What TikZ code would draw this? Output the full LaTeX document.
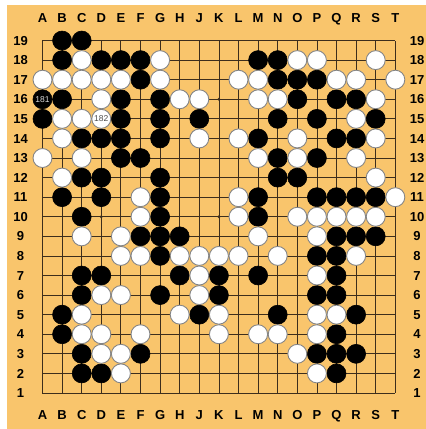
\documentclass[tikz,border=0pt]{standalone}
\usepackage{fontspec}
\setmainfont{Liberation Sans}
\usepackage{tikz}
\usepackage{xcolor}
\definecolor{boardorange}{HTML}{F9C56C}
\definecolor{gridbrown}{HTML}{3D2E1C}
\definecolor{stonegray}{HTML}{858585}
\tikzstyle{blackstone} = [
    circle, minimum size=19pt, inner sep=0pt,
    fill=black, draw=black, line width=0.6pt
]
\tikzstyle{whitestone} = [
    circle, minimum size=19pt, inner sep=0pt,
    fill=white, draw=stonegray, line width=0.9pt
]
\tikzstyle{coordlabel} = [
    inner sep=0pt, text height=9.3pt, text depth=0pt,
    font=\fontsize{13}{13}\selectfont\bfseries, text=black
]
\tikzstyle{movenum} = [font=\fontsize{8.5}{8.5}\selectfont]
\tikzstyle{gridline} = [draw=gridbrown, line width=0.8pt]
\tikzstyle{starpoint} = [circle, fill=gridbrown, inner sep=0pt, minimum size=3.2pt]

\begin{document}
\begin{tikzpicture}[x=19.6pt, y=19.58pt]
    \useasboundingbox (-1.168,-0.839) rectangle (20.566,21.07);
    % Board
    \fill[white] (-1.168,-0.839) rectangle (20.566,21.07);
    \fill[boardorange] (-0.811,-0.839) rectangle (20.566,20.816);
    \foreach \i in {1,...,19} {
        \draw[gridline] (\i,1) -- (\i,19);
        \draw[gridline] (1,\i) -- (19,\i);
    }
    \foreach \c/\r in {4/4,10/4,16/4,4/10,10/10,16/10,4/16,10/16,16/16}
        \node[starpoint] (star\c-\r) at (\c,\r) {};
    % Coordinates
    \foreach \l [count=\i] in {A,B,C,D,E,F,G,H,J,K,L,M,N,O,P,Q,R,S,T} {
        \node[coordlabel] (top\l) at (\i,20.15) {\l};
        \node[coordlabel] (bot\l) at (\i,-0.11) {\l};
    }
    \foreach \r in {1,...,19} {
        \node[coordlabel] (left\r) at (-0.12,\r) {\r};
        \node[coordlabel] (right\r) at (20.11,\r) {\r};
    }
    % Black stones
    \foreach \c/\r in {2/19,3/19,
        2/18,4/18,5/18,6/18,12/18,13/18,
        6/17,13/17,14/17,15/17,
        2/16,5/16,7/16,14/16,16/16,17/16,
        1/15,5/15,7/15,9/15,13/15,15/15,18/15,
        3/14,4/14,5/14,7/14,12/14,16/14,17/14,
        5/13,6/13,13/13,15/13,
        3/12,4/12,7/12,13/12,14/12,
        2/11,4/11,7/11,12/11,15/11,16/11,17/11,18/11,
        3/10,7/10,12/10,
        6/9,7/9,8/9,16/9,17/9,18/9,
        7/8,15/8,16/8,
        3/7,4/7,8/7,10/7,12/7,16/7,
        3/6,7/6,10/6,15/6,16/6,
        2/5,9/5,13/5,17/5,
        2/4,16/4,
        3/3,6/3,15/3,16/3,17/3,
        3/2,4/2,16/2}
        \node[blackstone] (b\c-\r) at (\c,\r) {};
    % White stones
    \foreach \c/\r in {3/18,7/18,14/18,15/18,18/18,
        1/17,2/17,3/17,4/17,5/17,7/17,11/17,12/17,16/17,17/17,19/17,
        4/16,8/16,9/16,12/16,13/16,18/16,
        2/15,3/15,17/15,
        2/14,9/14,11/14,14/14,18/14,
        1/13,3/13,12/13,14/13,17/13,
        2/12,18/12,
        6/11,11/11,19/11,
        6/10,11/10,14/10,15/10,16/10,17/10,18/10,
        3/9,5/9,12/9,15/9,
        5/8,6/8,8/8,9/8,10/8,11/8,13/8,17/8,
        9/7,15/7,
        4/6,5/6,9/6,
        3/5,8/5,10/5,15/5,16/5,
        3/4,4/4,6/4,10/4,12/4,13/4,15/4,
        4/3,5/3,14/3,
        5/2,15/2}
        \node[whitestone] (w\c-\r) at (\c,\r) {};
    % Numbered moves
    \node[blackstone, movenum, text=white!85!black] (m181) at (1,16) {181};
    \node[whitestone, movenum, text=black!70] (m182) at (4,15) {182};
\end{tikzpicture}
\end{document}
